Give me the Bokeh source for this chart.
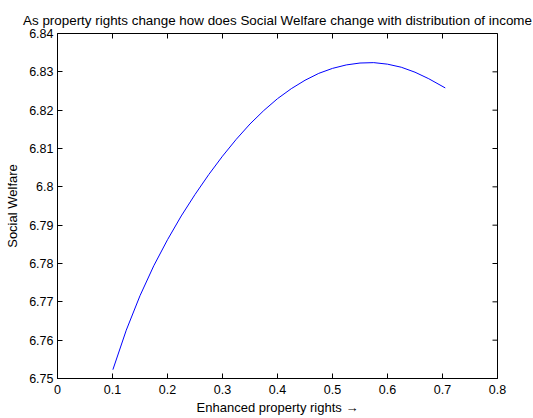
import math
from bokeh.plotting import figure
from bokeh.models import FixedTicker, Range1d
from bokeh.embed import file_html
from bokeh.resources import INLINE

# Data
rights = [0.1007, 0.125, 0.150, 0.175, 0.200, 0.225, 0.250, 0.275, 0.300, 0.325,
          0.350, 0.375, 0.400, 0.425, 0.450, 0.475, 0.500, 0.525, 0.550, 0.575,
          0.600, 0.625, 0.650, 0.675, 0.705]
welfare = [6.7523, 6.7626, 6.7716, 6.7794, 6.7862, 6.7924, 6.7980, 6.8032, 6.8080, 6.8124,
           6.8164, 6.8199, 6.8230, 6.8256, 6.8278, 6.8296, 6.8309, 6.8318, 6.8323, 6.8324,
           6.8320, 6.8312, 6.8299, 6.8282, 6.8258]

x_ticks = [0, 0.1, 0.2, 0.3, 0.4, 0.5, 0.6, 0.7, 0.8]
x_tick_labels = ["0", "0.1", "0.2", "0.3", "0.4", "0.5", "0.6", "0.7", "0.8"]
y_ticks = [6.75, 6.76, 6.77, 6.78, 6.79, 6.80, 6.81, 6.82, 6.83, 6.84]
y_tick_labels = ["6.75", "6.76", "6.77", "6.78", "6.79", "6.8", "6.81", "6.82", "6.83", "6.84"]

title_text = "As property rights change how does Social Welfare change with distribution of income"
x_label = "Enhanced property rights \u2192"
y_label = "Social Welfare"

FONT = "Liberation Sans"
TICK_FS = "12.5px"
LABEL_FS = "13px"
TITLE_FS = "13.4px"
INK = "black"

X0, X1 = 0, 0.8
Y0, Y1 = 6.75, 6.84

p = figure(width=533, height=418, output_backend="svg", toolbar_location=None,
           x_range=Range1d(X0, X1), y_range=Range1d(Y0, Y1),
           min_border_left=57, min_border_right=36, min_border_top=33, min_border_bottom=40,
           title=title_text)
p.title.text_font = FONT
p.title.text_font_size = TITLE_FS
p.title.text_font_style = "normal"
p.title.text_color = INK
p.title.align = "center"
p.title.standoff = 12
p.title.offset = 7

p.grid.visible = False
p.outline_line_color = "black"
p.outline_line_width = 1
p.background_fill_color = "white"
p.border_fill_color = "white"

def style_axis(ax):
    ax.axis_line_color = "black"
    ax.major_tick_line_color = "black"
    ax.major_tick_in = 5
    ax.major_tick_out = 0
    ax.minor_tick_line_color = None
    ax.major_label_text_font = FONT
    ax.major_label_text_font_size = TICK_FS
    ax.major_label_text_color = INK
    ax.major_label_standoff = 4
    ax.axis_label_text_font = FONT
    ax.axis_label_text_font_size = LABEL_FS
    ax.axis_label_text_font_style = "normal"
    ax.axis_label_text_color = INK

xb = p.xaxis[0]
xb.ticker = FixedTicker(ticks=x_ticks)
xb.major_label_overrides = {t: l for t, l in zip(x_ticks, x_tick_labels)}
xb.axis_label = x_label
style_axis(xb)
xb.major_label_standoff = 6
xb.axis_label_standoff = 3

yl = p.yaxis[0]
yl.ticker = FixedTicker(ticks=y_ticks)
yl.major_label_overrides = {t: l for t, l in zip(y_ticks, y_tick_labels)}
yl.axis_label = y_label
style_axis(yl)
yl.axis_label_standoff = 6

# mirrored ticks on the top and right edges of the box (clipped to the frame)
p.scatter(x_ticks, [Y1] * len(x_ticks), marker="dash", size=10, angle=math.pi / 2,
          line_color="black", line_width=1)
p.scatter([X1] * len(y_ticks), y_ticks, marker="dash", size=10,
          line_color="black", line_width=1)

p.line(rights, welfare, line_color="#0000ff", line_width=1)

open("out.html", "w").write(file_html(p, INLINE))
